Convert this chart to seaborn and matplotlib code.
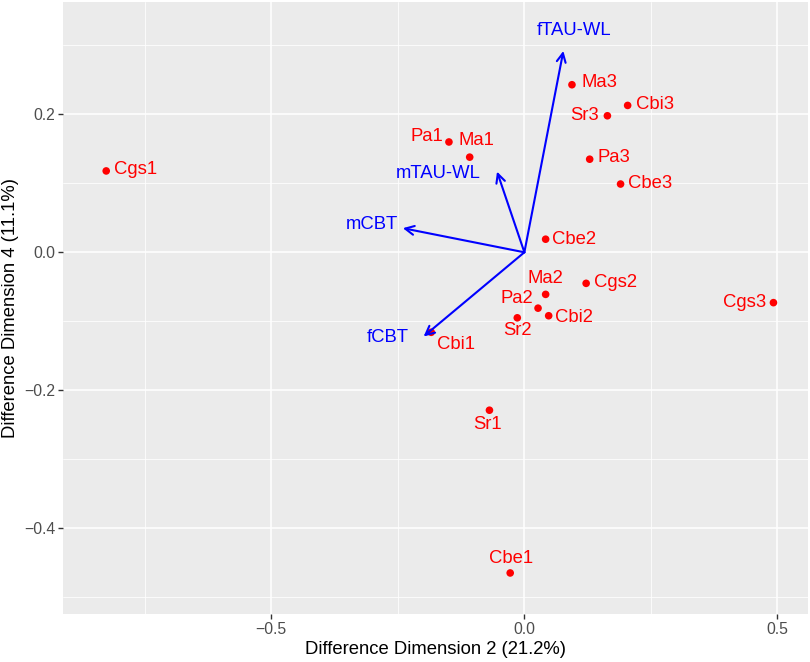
import matplotlib
matplotlib.use("Agg")
import matplotlib.pyplot as plt
import numpy as np
import pandas as pd
import seaborn as sns

# sample scores on the two difference dimensions
samples = ["Cgs1", "Pa1", "Ma1", "Ma3", "Cbi3", "Sr3", "Pa3", "Cbe3", "Cbe2",
           "Cgs2", "Ma2", "Pa2", "Cbi2", "Sr2", "Cgs3", "Cbi1", "Sr1", "Cbe1"]
dim2 = [-0.826, -0.149, -0.108, 0.094, 0.204, 0.164, 0.129, 0.190, 0.042,
        0.122, 0.042, 0.027, 0.048, -0.014, 0.492, -0.184, -0.069, -0.028]
dim4 = [0.118, 0.160, 0.138, 0.243, 0.213, 0.198, 0.135, 0.099, 0.019,
        -0.045, -0.061, -0.081, -0.092, -0.095, -0.073, -0.116, -0.229, -0.465]

# variable loadings (arrows)
variables = ["fTAU-WL", "mTAU-WL", "mCBT", "fCBT"]
load2 = [0.077, -0.054, -0.240, -0.199]
load4 = [0.292, 0.117, 0.035, -0.122]

# label placement (pixel offsets and alignment), repel-style
sample_lab = {
    "Cgs1": (8, 1, "left"), "Pa1": (-6, 5, "right"), "Ma1": (7, 17, "center"),
    "Ma3": (10, 2, "left"), "Cbi3": (8, 1, "left"), "Sr3": (-8, 0, "right"),
    "Pa3": (8, 2, "left"), "Cbe3": (7, 1, "left"), "Cbe2": (6, 0, "left"),
    "Cgs2": (8, 1, "left"), "Ma2": (0, 16, "center"), "Pa2": (-5, 10, "right"),
    "Cbi2": (6, -2, "left"), "Sr2": (0, -13, "center"), "Cgs3": (-7, 0, "right"),
    "Cbi1": (25, -12, "center"), "Sr1": (-2, -14, "center"), "Cbe1": (1, 14, "center"),
}
var_lab = {
    "fTAU-WL": (11, 20, "center"), "mTAU-WL": (-16, -2, "right"),
    "mCBT": (-5, 4, "right"), "fCBT": (-15, -1, "right"),
}

df = pd.DataFrame({"sample": samples, "dim2": dim2, "dim4": dim4})

sns.set_theme(style="darkgrid", rc={
    "axes.facecolor": "#EBEBEB",
    "grid.color": "white",
    "xtick.bottom": True, "ytick.left": True,
    "xtick.color": "#333333", "ytick.color": "#333333",
    "xtick.major.size": 3.5, "ytick.major.size": 3.5,
    "xtick.major.width": 1.0, "ytick.major.width": 1.0,
})
plt.rcParams["font.family"] = ["Liberation Sans", "DejaVu Sans"]

fig, ax = plt.subplots(figsize=(8.1, 6.62), dpi=100)
fig.subplots_adjust(left=0.078, right=0.998, top=0.997, bottom=0.072)

sns.scatterplot(data=df, x="dim2", y="dim4", color="red", s=30,
                edgecolor="none", ax=ax, zorder=3)

for name, x, y in zip(samples, dim2, dim4):
    dx, dy, ha = sample_lab[name]
    ax.annotate(name, (x, y), xytext=(dx, dy), textcoords="offset pixels",
                ha=ha, va="center", color="red", fontsize=13.3, zorder=4)

for name, x, y in zip(variables, load2, load4):
    ax.annotate("", xy=(x, y), xytext=(0, 0),
                arrowprops=dict(arrowstyle="->", color="blue", lw=1.5,
                                mutation_scale=16, shrinkA=0, shrinkB=0),
                zorder=3)
    dx, dy, ha = var_lab[name]
    ax.annotate(name, (x, y), xytext=(dx, dy), textcoords="offset pixels",
                ha=ha, va="center", color="blue", fontsize=13.3, zorder=4)

ax.set_xlim(-0.911, 0.561)
ax.set_ylim(-0.525, 0.363)
ax.set_xticks([-0.5, 0.0, 0.5])
ax.set_yticks([-0.4, -0.2, 0.0, 0.2])
ax.set_xticks([-0.75, -0.25, 0.25], minor=True)
ax.set_yticks([-0.5, -0.3, -0.1, 0.1, 0.3], minor=True)
ax.set_xticklabels(["\u22120.5", "0.0", "0.5"])
ax.set_yticklabels(["\u22120.4", "\u22120.2", "0.0", "0.2"])
ax.tick_params(which="major", labelsize=11.3, labelcolor="#4D4D4D", pad=2)
ax.tick_params(which="minor", length=0)
ax.grid(which="major", color="white", linewidth=1.1)
ax.grid(which="minor", color="white", linewidth=0.55)
for sp in ax.spines.values():
    sp.set_visible(False)

ax.set_xlabel("Difference Dimension 2 (21.2%)", fontsize=13.3, color="black", labelpad=3)
ax.set_ylabel("Difference Dimension 4 (11.1%)", fontsize=13.3, color="black", labelpad=4)

fig.savefig("out.png", dpi=100)
